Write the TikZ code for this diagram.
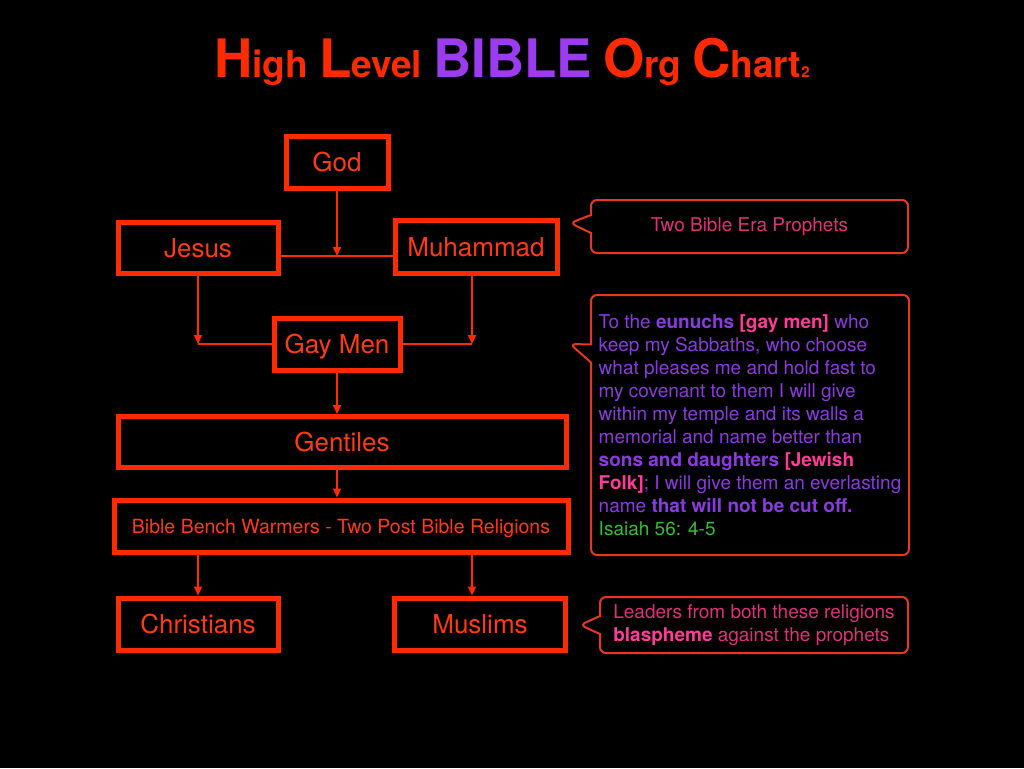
\documentclass[tikz,border=0pt]{standalone}
\usepackage{fontspec}
\setmainfont{TeX Gyre Heros}
\usetikzlibrary{arrows.meta,shapes.callouts}
\definecolor{boxred}{HTML}{FF2A00}
\definecolor{textred}{HTML}{FF3A10}
\definecolor{titlepurple}{HTML}{9B3CF0}
\definecolor{notepurple}{HTML}{8A3AE0}
\definecolor{notepink}{HTML}{E0307A}
\definecolor{hotpink}{HTML}{FF3A98}
\definecolor{notegreen}{HTML}{30C030}
\definecolor{calloutred}{HTML}{E8381C}
\newcommand{\titlecap}[1]{{\fontsize{53}{53}\selectfont #1}}
\newcommand{\titlerest}[1]{{\fontsize{37}{37}\selectfont #1}}
\begin{document}
\begin{tikzpicture}[x=1pt,y=-1pt,
  orgbox/.style={draw=boxred,line width=5pt,text=textred,inner sep=0pt,
    text height=19pt,text depth=0pt,font=\fontsize{26}{26}\selectfont},
  link/.style={draw=boxred,line width=2pt},
  arr/.style={link,-{Triangle[width=8pt,length=9pt]}},
  note/.style={rectangle callout,draw=calloutred,line width=2pt,rounded corners=6pt,
    callout pointer width=18pt,inner sep=0pt,font=\fontsize{19}{23}\selectfont}]
\fill [black] (0,0) rectangle (1024,768);
\useasboundingbox (0,0) rectangle (1024,768);
\node (title) at (512,62) {\bfseries
  \textcolor{boxred}{\titlecap{H}\titlerest{igh}}\hspace{11pt}%
  \textcolor{boxred}{\titlecap{L}\titlerest{evel}}\hspace{11pt}%
  \textcolor{titlepurple}{\titlecap{BIBLE}}\hspace{11pt}%
  \textcolor{boxred}{\titlecap{O}\titlerest{rg}}\hspace{11pt}%
  \textcolor{boxred}{\titlecap{C}\titlerest{hart}{\fontsize{15}{15}\selectfont 2}}};
\node [orgbox,minimum width=102pt,minimum height=52pt] (god) at (337,162) {God};
\node [orgbox,minimum width=160pt,minimum height=51pt] (jesus) at (198,248) {Jesus};
\node [orgbox,minimum width=162pt,minimum height=53pt] (muhammad) at (476,247) {Muhammad};
\node [orgbox,minimum width=126pt,minimum height=52pt] (gaymen) at (337,344) {Gay Men};
\node [orgbox,minimum width=448pt,minimum height=51pt] (gentiles) at (342,442) {Gentiles};
\node [orgbox,minimum width=454pt,minimum height=52pt,text height=14pt,
  font=\fontsize{19.5}{19.5}\selectfont] (bench) at (341,526)
  {Bible Bench Warmers - Two Post Bible Religions};
\node [orgbox,minimum width=160pt,minimum height=52pt] (christians) at (198,624) {Christians};
\node [orgbox,minimum width=171pt,minimum height=52pt] (muslims) at (480,624) {Muslims};
\coordinate (join) at (337,256);
\coordinate (leftjoin) at (198,344);
\coordinate (rightjoin) at (472,344);
\draw [link] (jesus.east |- join) -- (muhammad.west |- join);
\draw [arr] (god.south) -- (join);
\draw [arr] (jesus.south -| leftjoin) -- (leftjoin);
\draw [link] (leftjoin) -- (gaymen.west);
\draw [arr] (muhammad.south -| rightjoin) -- (rightjoin);
\draw [link] (rightjoin) -- (gaymen.east);
\draw [arr] (gaymen.south) -- (gaymen.south |- gentiles.north);
\draw [arr] (gentiles.south -| gaymen.south) -- (gaymen.south |- bench.north);
\draw [arr] (bench.south -| leftjoin) -- (leftjoin |- christians.north);
\draw [arr] (bench.south -| rightjoin) -- (rightjoin |- muslims.north);
\node [note,minimum width=317pt,minimum height=53pt,text=notepink,
  callout absolute pointer={(570,223)}] (prophets) at (749.5,226.5) {Two Bible Era Prophets};
\node [note,minimum width=318pt,minimum height=260pt,text=notepurple,align=left,
  callout absolute pointer={(570,344)}] (verse) at (750,425)
  {To the \textbf{eunuchs \textcolor{hotpink}{[gay men]}} who\\
   keep my Sabbaths, who choose\\
   what pleases me and hold fast to\\
   my covenant to them I will give\\
   within my temple and its walls a\\
   memorial and name better than\\
   \textbf{sons and daughters \textcolor{hotpink}{[Jewish}}\\
   \textbf{\textcolor{hotpink}{Folk]}}; I will give them an everlasting\\
   name \textbf{that will not be cut off.}\\
   \textcolor{notegreen}{Isaiah 56: 4-5}};
\node [note,minimum width=308pt,minimum height=56pt,text=notepink,align=left,
  callout absolute pointer={(580,625)}] (leaders) at (754,625)
  {Leaders from both these religions\\
   \textbf{\textcolor{hotpink}{blaspheme}} against the prophets};
\end{tikzpicture}
\end{document}
